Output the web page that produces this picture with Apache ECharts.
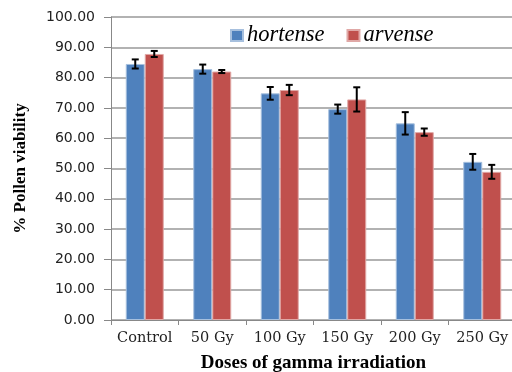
<!DOCTYPE html>
<html><head><meta charset="utf-8">
<script src="https://cdn.jsdelivr.net/npm/echarts@6/dist/echarts.min.js"></script>
<style>html,body{margin:0;padding:0;background:#fff}#c{width:512px;height:372px}</style>
</head><body><div id="c"></div>
<script>
const categories = ['Control', '50 Gy', '100 Gy', '150 Gy', '200 Gy', '250 Gy'];
const hortense = [84.5, 82.8, 74.8, 69.6, 64.9, 52.2];
const hortenseErr = [1.5, 1.5, 2.1, 1.5, 3.7, 2.6];
const arvense = [87.8, 82.0, 75.9, 72.8, 62.0, 48.9];
const arvenseErr = [1.0, 0.5, 1.7, 4.0, 1.2, 2.3];
const yTicks = {min: 0, max: 100, interval: 10};

const BW = 19;
function errSeries(name, vals, errs, side) {
  return {
    type: 'custom', name: name + ' err', silent: true, z: 10,
    data: vals.map((v, i) => [i, v - errs[i], v + errs[i]]),
    renderItem: function (params, api) {
      const i = api.value(0);
      const lo = api.coord([i, api.value(1)]);
      const hi = api.coord([i, api.value(2)]);
      const x = lo[0] + side * BW / 2;
      const cw = 3.5;
      const st = {stroke: '#000', lineWidth: 2};
      return {type: 'group', children: [
        {type: 'line', shape: {x1: x, y1: lo[1], x2: x, y2: hi[1]}, style: st},
        {type: 'line', shape: {x1: x - cw, y1: lo[1], x2: x + cw, y2: lo[1]}, style: st},
        {type: 'line', shape: {x1: x - cw, y1: hi[1], x2: x + cw, y2: hi[1]}, style: st}
      ]};
    }
  };
}

const chart = echarts.init(document.getElementById('c'));
chart.setOption({
  animation: false,
  backgroundColor: '#fff',
  grid: {left: 111, top: 17, bottom: 52, width: 405, outerBoundsMode: 'none', containLabel: false},
  legend: {
    data: ['hortense', 'arvense'],
    left: 230, top: 24, padding: 0,
    itemWidth: 12, itemHeight: 11, itemGap: 22,
    icon: 'rect',
    textStyle: {fontFamily: 'Liberation Serif', fontStyle: 'italic', fontSize: 22.5, color: '#000', padding: [0, 0, 0, -1]}
  },
  xAxis: {
    type: 'category', data: categories,
    axisLine: {lineStyle: {color: '#888', width: 1}},
    axisTick: {show: true, length: 5, lineStyle: {color: '#888'}},
    axisLabel: {fontFamily: 'DejaVu Serif', fontSize: 14.5, color: '#222', margin: 11, interval: 0},
    name: 'Doses of gamma irradiation', nameLocation: 'middle', nameGap: 34,
    nameTextStyle: {fontFamily: 'Liberation Serif', fontWeight: 'bold', fontSize: 19, color: '#000'}
  },
  yAxis: {
    type: 'value', min: yTicks.min, max: yTicks.max, interval: yTicks.interval,
    axisLine: {show: true, lineStyle: {color: '#888'}},
    axisTick: {show: true, length: 7, lineStyle: {color: '#888'}},
    splitLine: {lineStyle: {color: '#999', width: 1.5}},
    axisLabel: {fontFamily: 'DejaVu Sans', fontSize: 14, color: '#222', margin: 16,
      formatter: v => v.toFixed(2)},
    name: '% Pollen viability', nameLocation: 'middle', nameGap: 82,
    nameTextStyle: {fontFamily: 'Liberation Serif', fontWeight: 'bold', fontSize: 17, color: '#000'}
  },
  series: [
    {type: 'bar', name: 'hortense', data: hortense, barWidth: BW, barGap: '0%',
      itemStyle: {color: '#4F81BD', borderColor: '#A7C0DE', borderWidth: 1}},
    {type: 'bar', name: 'arvense', data: arvense, barWidth: BW, barGap: '0%',
      itemStyle: {color: '#C0504D', borderColor: '#E0A8A6', borderWidth: 1}},
    errSeries('hortense', hortense, hortenseErr, -1),
    errSeries('arvense', arvense, arvenseErr, 1)
  ]
});
</script></body></html>
